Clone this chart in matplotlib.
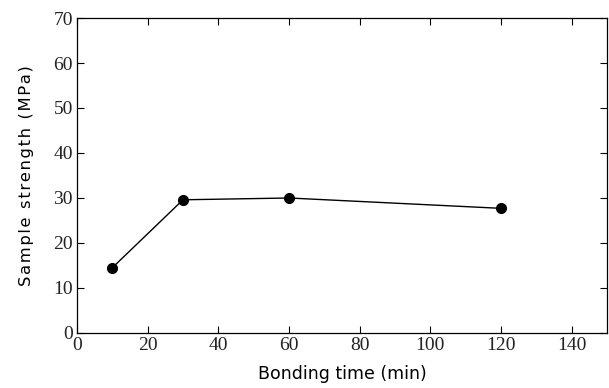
import matplotlib
matplotlib.use("Agg")
import matplotlib.pyplot as plt

# bonding time (min) vs sample strength (MPa)
bonding_time = [10, 30, 60, 120]
strength = [14.5, 29.6, 30.0, 27.7]

xticks = [0, 20, 40, 60, 80, 100, 120, 140]
yticks = [0, 10, 20, 30, 40, 50, 60, 70]

x_title = 'Bonding time (min)'
y_title = 'Sample strength (MPa)'


def spaced(s, n):
    # widen letter spacing with hair spaces
    return ('\u200a' * n).join(s)


fig = plt.figure(figsize=(6.09, 3.88), dpi=100)
ax = fig.add_axes([0.1264, 0.1418, 0.8703, 0.8118])

ax.plot(bonding_time, strength, color='black', linewidth=1.0,
        marker='o', markersize=7)

ax.set_xlim(0, 150)
ax.set_ylim(0, 70)
ax.set_xticks(xticks)
ax.set_yticks(yticks)
ax.tick_params(direction='in', top=True, right=True, length=5, width=0.8, pad=3)
for lbl in ax.get_xticklabels() + ax.get_yticklabels():
    lbl.set_family('Liberation Serif')
    lbl.set_fontsize(14)
    lbl.set_color('#222222')

for s in ax.spines.values():
    s.set_linewidth(0.9)

ax.set_xlabel(x_title, fontsize=12.5, family='DejaVu Sans', labelpad=8)
ax.set_ylabel(spaced(y_title, 1), fontsize=11.8, family='DejaVu Sans', labelpad=14)

fig.savefig('out.png', dpi=100)
